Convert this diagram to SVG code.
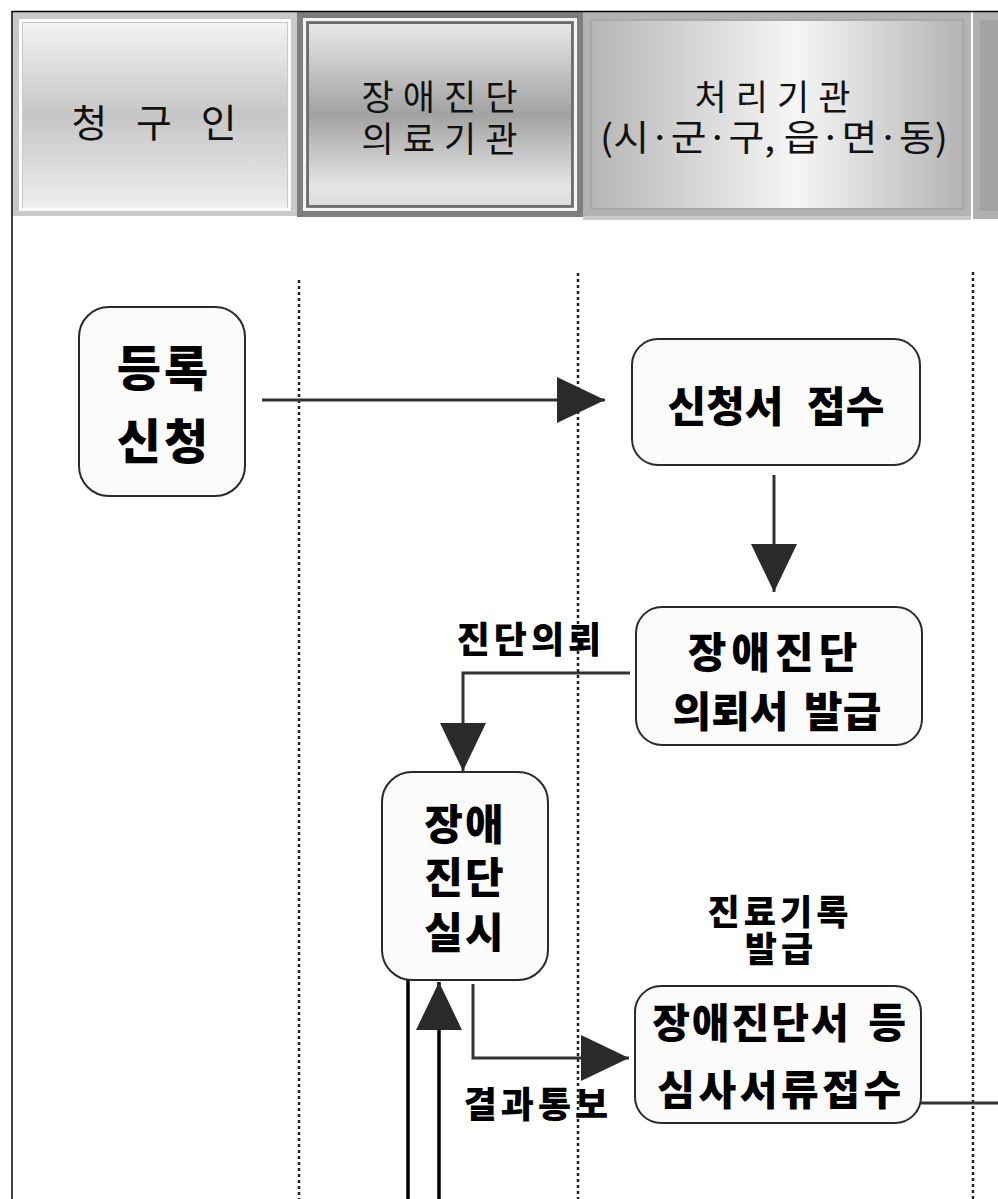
<svg xmlns="http://www.w3.org/2000/svg" width="998" height="1199" viewBox="0 0 998 1199">
<style>
.hd{font-family:"Noto Sans CJK KR","Noto Sans",sans-serif;font-weight:400;fill:#111;text-anchor:middle}
.nt{font-family:"Noto Sans CJK KR","Noto Sans",sans-serif;font-weight:900;fill:#000;text-anchor:middle}
.lb{font-family:"Noto Sans CJK KR","Noto Sans",sans-serif;font-weight:900;fill:#000;text-anchor:middle}
.box{fill:#fbfbfb;stroke:#2a2a2a;stroke-width:2}
.lane{stroke:#222;stroke-width:2.5;stroke-dasharray:3 3;fill:none}
.con{fill:none;stroke:#333;stroke-width:3}
.blk{fill:none;stroke:#000;stroke-width:3.5}
</style>
<defs>
<linearGradient id="g1" x1="0" y1="0" x2="0" y2="1">
<stop offset="0" stop-color="#f2f2f2"/><stop offset="0.5" stop-color="#c6c6c6"/><stop offset="1" stop-color="#eeeeee"/>
</linearGradient>
<linearGradient id="g2" x1="0" y1="0" x2="0" y2="1">
<stop offset="0" stop-color="#e8e8e8"/><stop offset="0.5" stop-color="#a2a2a2"/><stop offset="0.9" stop-color="#e6e6e6"/><stop offset="1" stop-color="#dcdcdc"/>
</linearGradient>
<linearGradient id="g3" x1="0" y1="0" x2="1" y2="0">
<stop offset="0" stop-color="#b6b6b6"/><stop offset="0.55" stop-color="#f6f6f6"/><stop offset="1" stop-color="#b4b4b4"/>
</linearGradient>
<marker id="ah" viewBox="0 0 48 46" refX="48" refY="23" markerWidth="48" markerHeight="46" markerUnits="userSpaceOnUse" orient="auto">
<path d="M0,0 L48,23 L0,46 z" fill="#2a2a2a"/>
</marker>
</defs>
<rect width="998" height="1199" fill="#fff"/>

<g id="header-1">
<rect x="13" y="12" width="284" height="204" fill="#c9c9c9"/>
<rect x="20.5" y="20.5" width="269" height="189" fill="none" stroke="#fbfbfb" stroke-width="3"/>
<rect x="23" y="23" width="264" height="185" fill="url(#g1)"/>
<text class="hd" x="154" y="137" font-size="39" word-spacing="20">청 구 인</text>
</g>
<g id="header-2">
<rect x="297" y="12" width="286" height="205" fill="#7e7e7e"/>
<rect x="304.5" y="19.5" width="271" height="190" fill="none" stroke="#f4f4f4" stroke-width="3"/>
<rect x="307" y="22" width="266" height="185" fill="#6e6e6e"/>
<rect x="309" y="24" width="262" height="181" fill="url(#g2)"/>
<text class="hd" font-size="35" letter-spacing="9"><tspan x="444" y="110">장애진단</tspan><tspan x="444" y="152">의료기관</tspan></text>
</g>
<g id="header-3">
<rect x="583" y="12" width="388" height="208" fill="#b3b3b3"/>
<rect x="583" y="216" width="388" height="4" fill="#c8c8c8"/>
<rect x="590" y="19" width="374" height="191" fill="#a9a9a9"/>
<rect x="592" y="21" width="370" height="187" fill="url(#g3)"/>
<text class="hd" font-size="35"><tspan x="777" y="110" letter-spacing="9">처리기관</tspan><tspan x="774" y="151" font-size="36" textLength="348" lengthAdjust="spacingAndGlyphs">(시·군·구, 읍·면·동)</tspan></text>
</g>
<g id="header-4">
<rect x="973" y="12" width="25" height="207" fill="#b0b0b0"/>
<rect x="980" y="20" width="18" height="191" fill="#a2a2a2"/>
</g>

<g id="frame">
<line x1="12" y1="11.5" x2="998" y2="11.5" stroke="#000" stroke-width="1.5"/>
<line x1="12" y1="11" x2="12" y2="1199" stroke="#000" stroke-width="1.5"/>
</g>

<g id="lanes">
<line class="lane" x1="299" y1="280" x2="299" y2="1199"/>
<line class="lane" x1="578" y1="273" x2="578" y2="1199"/>
<line class="lane" x1="973" y1="272" x2="973" y2="1199"/>
</g>

<g id="connectors">
<path class="con" d="M262,400 H605" marker-end="url(#ah)"/>
<path class="con" d="M774,475 V592" marker-end="url(#ah)"/>
<path class="con" d="M630,673 H463 V771" marker-end="url(#ah)"/>
<path class="blk" d="M408,980 V1199"/>
<path class="blk" d="M439,1199 V982" marker-end="url(#ah)"/>
<path class="con" d="M473,984 V1058 H629" marker-end="url(#ah)"/>
<path class="con" d="M921,1103 H998"/>
<text class="lb" x="531" y="653" font-size="36" letter-spacing="4">진단의뢰</text>
<text class="lb" x="538" y="1118" font-size="36" letter-spacing="4">결과통보</text>
<text class="lb" font-size="35" letter-spacing="4"><tspan x="780" y="925">진료기록</tspan><tspan x="781" y="962">발급</tspan></text>
</g>

<g id="node-register">
<rect class="box" x="79" y="307" width="166" height="189" rx="30"/>
<text class="nt" font-size="48" letter-spacing="3"><tspan x="164" y="386">등록</tspan><tspan x="164" y="459">신청</tspan></text>
</g>
<g id="node-receive">
<rect class="box" x="632" y="339" width="288" height="126" rx="26"/>
<text class="nt" x="776" y="422" font-size="42" word-spacing="14">신청서 접수</text>
</g>
<g id="node-request">
<rect class="box" x="636" y="607" width="286" height="138" rx="26"/>
<text class="nt" font-size="42"><tspan x="775" y="668" letter-spacing="5">장애진단</tspan><tspan x="777" y="727" word-spacing="6">의뢰서 발급</tspan></text>
</g>
<g id="node-diagnosis">
<rect class="box" x="382" y="772" width="166" height="208" rx="30"/>
<text class="nt" font-size="42" letter-spacing="2"><tspan x="465" y="840">장애</tspan><tspan x="465" y="893">진단</tspan><tspan x="465" y="948">실시</tspan></text>
</g>
<g id="node-documents">
<rect class="box" x="635" y="986" width="286" height="137" rx="26"/>
<text class="nt" font-size="41"><tspan x="780" y="1038" letter-spacing="2" word-spacing="6">장애진단서 등</tspan><tspan x="781" y="1105" letter-spacing="3.5">심사서류접수</tspan></text>
</g>
</svg>
